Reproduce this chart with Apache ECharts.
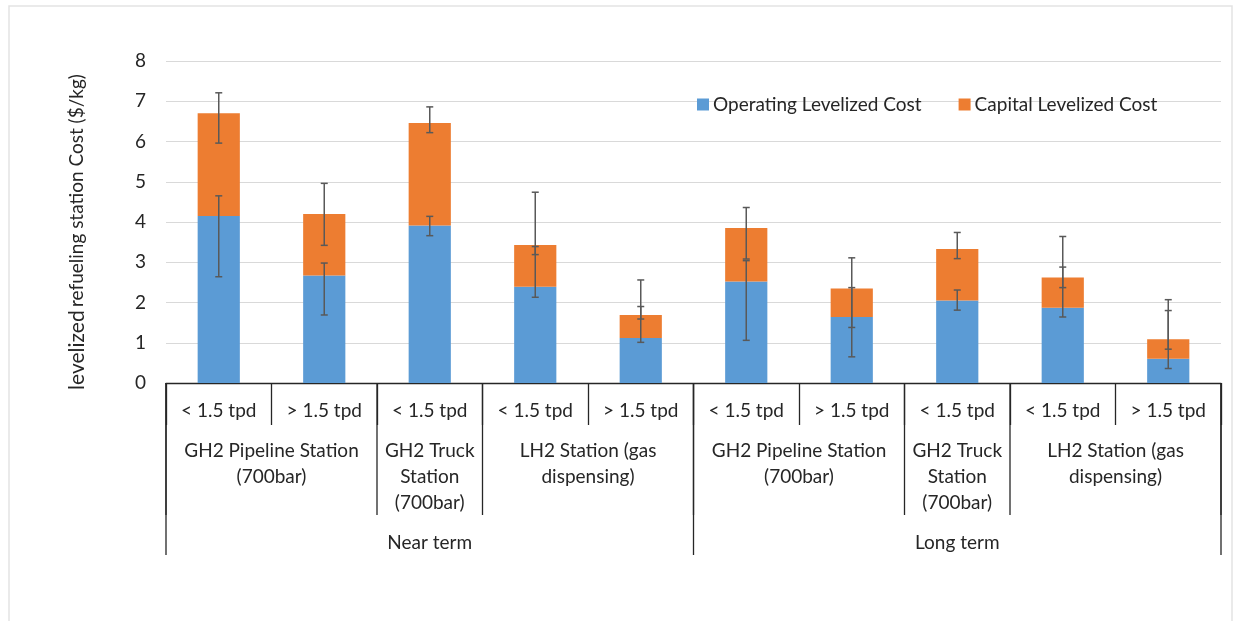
<!DOCTYPE html>
<html>
<head>
<meta charset="utf-8">
<script src="https://cdn.jsdelivr.net/npm/echarts@6/dist/echarts.min.js"></script>
<style>
  html, body { margin: 0; padding: 0; background: #fff; }
  #chart { width: 1236px; height: 621px; }
</style>
</head>
<body>
<div id="chart"></div>
<script>
// Capacity classes along the bottom tier of the axis
const categories = ['< 1.5 tpd', '> 1.5 tpd', '< 1.5 tpd', '< 1.5 tpd', '> 1.5 tpd',
                    '< 1.5 tpd', '> 1.5 tpd', '< 1.5 tpd', '< 1.5 tpd', '> 1.5 tpd'];
// Station types (middle tier) and how many capacity classes each spans
const groupNames = ['GH2 Pipeline Station\n(700bar)', 'GH2 Truck\nStation\n(700bar)', 'LH2 Station (gas\ndispensing)',
                    'GH2 Pipeline Station\n(700bar)', 'GH2 Truck\nStation\n(700bar)', 'LH2 Station (gas\ndispensing)'];
const groupSpans = [2, 1, 2, 2, 1, 2];
// Time horizons (top tier) and their spans
const termNames = ['Near term', 'Long term'];
const termSpans = [5, 5];

// Levelized costs, $/kg
const operating = [4.15, 2.67, 3.91, 2.39, 1.12, 2.52, 1.64, 2.05, 1.87, 0.60];
const capital   = [2.55, 1.53, 2.55, 1.04, 0.57, 1.33, 0.71, 1.28, 0.75, 0.49];

// Uncertainty ranges: operating cost and total (operating + capital)
const operatingLow  = [2.64, 1.69, 3.66, 2.13, 1.01, 1.06, 0.65, 1.81, 1.64, 0.36];
const operatingHigh = [4.65, 2.98, 4.14, 3.39, 1.90, 3.04, 2.37, 2.31, 2.88, 1.80];
const totalLow      = [5.96, 3.42, 6.22, 3.19, 1.59, 3.08, 1.38, 3.09, 2.37, 0.84];
const totalHigh     = [7.21, 4.96, 6.86, 4.74, 2.56, 4.36, 3.11, 3.74, 3.64, 2.07];

const yTicks = [0, 1, 2, 3, 4, 5, 6, 7, 8];

const FONT = 'Lato, "Open Sans", sans-serif';
const TEXT = '#262626';
const BLUE = '#5B9BD5';
const ORANGE = '#ED7D31';
const ERR = '#595959';
const RULE = '#262626';
const FS = 19;

function errorBarItem(params, api) {
  const x = api.value(0);
  const lo = api.coord([x, api.value(1)]);
  const hi = api.coord([x, api.value(2)]);
  const cap = 3.5;
  const style = { stroke: ERR, lineWidth: 1.5 };
  return {
    type: 'group',
    children: [
      { type: 'line', shape: { x1: lo[0], y1: lo[1], x2: hi[0], y2: hi[1] }, style },
      { type: 'line', shape: { x1: lo[0] - cap, y1: lo[1], x2: lo[0] + cap, y2: lo[1] }, style },
      { type: 'line', shape: { x1: hi[0] - cap, y1: hi[1], x2: hi[0] + cap, y2: hi[1] }, style }
    ]
  };
}

const chart = echarts.init(document.getElementById('chart'), null, { renderer: 'canvas' });

const option = {
  backgroundColor: '#ffffff',
  animation: false,
  textStyle: { fontFamily: FONT },
  grid: { left: 166, right: 15, top: 61, bottom: 238, containLabel: false },
  legend: {
    data: ['Operating Levelized Cost', 'Capital Levelized Cost'],
    left: 692, top: 90,
    icon: 'rect', itemWidth: 12, itemHeight: 12, itemGap: 37,
    textStyle: { fontFamily: FONT, fontSize: FS, color: TEXT, padding: [0, 0, 0, -1] }
  },
  xAxis: {
    type: 'category',
    data: categories,
    axisLine: { show: true, lineStyle: { color: RULE, width: 1.3 } },
    axisTick: { show: true, length: 42, interval: 0, lineStyle: { color: RULE, width: 1.3 } },
    axisLabel: { interval: 0, margin: 18, fontSize: FS, color: TEXT, fontFamily: FONT },
    splitLine: { show: false }
  },
  yAxis: {
    type: 'value',
    min: yTicks[0], max: yTicks[yTicks.length - 1], interval: 1,
    axisLine: { show: false },
    axisTick: { show: false },
    axisLabel: { margin: 20, fontSize: FS, color: TEXT, fontFamily: FONT },
    splitLine: { lineStyle: { color: '#d9d9d9', width: 1.2 } }
  },
  series: [
    {
      name: 'Operating Levelized Cost', type: 'bar', stack: 'cost',
      barWidth: '40%', itemStyle: { color: BLUE }, data: operating
    },
    {
      name: 'Capital Levelized Cost', type: 'bar', stack: 'cost',
      barWidth: '40%', itemStyle: { color: ORANGE }, data: capital
    },
    {
      name: 'Operating range', type: 'custom', renderItem: errorBarItem, z: 5,
      encode: { x: 0, y: [1, 2] },
      data: categories.map((_, i) => [i, operatingLow[i], operatingHigh[i]])
    },
    {
      name: 'Total range', type: 'custom', renderItem: errorBarItem, z: 5,
      encode: { x: 0, y: [1, 2] },
      data: categories.map((_, i) => [i, totalLow[i], totalHigh[i]])
    }
  ]
};

chart.setOption(option);

// Multi-level axis: station-type and time-horizon dividers and labels,
// placed from the category scale.
function axisDecor() {
  const c0 = chart.convertToPixel({ xAxisIndex: 0 }, 0);
  const c1 = chart.convertToPixel({ xAxisIndex: 0 }, 1);
  const band = c1 - c0;
  const base = chart.convertToPixel({ yAxisIndex: 0 }, 0);
  const edge = i => c0 + (i - 0.5) * band;
  const els = [];

  const vline = (x, len) => ({
    type: 'line', silent: true,
    shape: { x1: x, y1: base, x2: x, y2: base + len },
    style: { stroke: RULE, lineWidth: 1.3 }
  });

  let idx = 0;
  els.push(vline(edge(0), 132));
  groupNames.forEach((name, g) => {
    const start = idx, end = idx + groupSpans[g];
    els.push(vline(edge(end), 132));
    els.push({
      type: 'text', silent: true,
      x: (edge(start) + edge(end)) / 2, y: base + 55,
      style: {
        text: name, fill: TEXT, font: FS + 'px ' + FONT,
        align: 'center', verticalAlign: 'top', lineHeight: 26
      }
    });
    idx = end;
  });

  idx = 0;
  els.push(vline(edge(0), 172));
  termNames.forEach((name, t) => {
    const start = idx, end = idx + termSpans[t];
    els.push(vline(edge(end), 172));
    els.push({
      type: 'text', silent: true,
      x: (edge(start) + edge(end)) / 2, y: base + 160,
      style: {
        text: name, fill: TEXT, font: FS + 'px ' + FONT,
        align: 'center', verticalAlign: 'middle'
      }
    });
    idx = end;
  });

  // Y axis title
  els.push({
    type: 'text', silent: true,
    x: 77, y: 232, rotation: Math.PI / 2,
    style: {
      text: '{a|levelized} {b|refueling station Cost ($/kg)}',
      align: 'center', verticalAlign: 'middle',
      rich: {
        a: { fontSize: 21, fontFamily: FONT, fill: TEXT },
        b: { fontSize: 19, fontFamily: FONT, fill: TEXT }
      }
    }
  });

  // Chart frame
  els.push({
    type: 'rect', silent: true, z: -1,
    shape: { x: 9, y: 6, width: 1223, height: 640 },
    style: { fill: 'none', stroke: '#e3e3e3', lineWidth: 1.5 }
  });

  chart.setOption({ graphic: { elements: els } });
}
axisDecor();
</script>
</body>
</html>
